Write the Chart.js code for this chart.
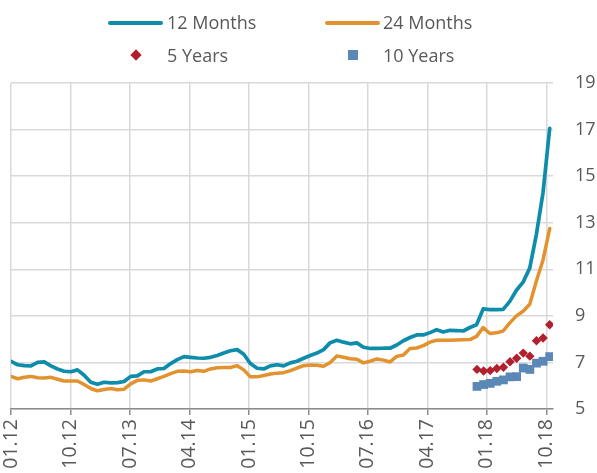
<!DOCTYPE html>
<html>
<head>
<meta charset="utf-8">
<script src="https://cdn.jsdelivr.net/npm/chart.js@4/dist/chart.umd.min.js"></script>
<style>
  html, body { margin: 0; padding: 0; background: #fff; }
  #wrap { position: relative; width: 597px; height: 473px; overflow: hidden; }
  canvas { position: absolute; left: 0; top: 0; }
  .lg { position: absolute; font-family: "Open Sans", sans-serif; font-size: 18px; color: #595959; line-height: 20px; white-space: nowrap; }
  .sw { position: absolute; }
</style>
</head>
<body>
<div id="wrap">
  <canvas id="c" width="597" height="473"></canvas>
  <div class="sw" style="left:108px;top:21px;width:55px;height:4px;border-radius:2px;background:#0e8dab;"></div>
  <div class="lg" style="left:167px;top:12px;">12 Months</div>
  <div class="sw" style="left:325px;top:21px;width:55px;height:4px;border-radius:2px;background:#e2922f;"></div>
  <div class="lg" style="left:383px;top:12px;">24 Months</div>
  <div class="sw" style="left:132px;top:51px;width:8px;height:8px;background:#b0202f;transform:rotate(45deg);"></div>
  <div class="lg" style="left:167px;top:45px;">5 Years</div>
  <div class="sw" style="left:348px;top:50px;width:10px;height:10px;background:#5b88b6;"></div>
  <div class="lg" style="left:383px;top:45px;">10 Years</div>
</div>
<script>
// Tick labels (month.year) placed every 9 months from 01.12
const tickLabels = ['01.12','10.12','07.13','04.14','01.15','10.15','07.16','04.17','01.18','10.18'];
const tickMonths = [0, 9, 18, 27, 36, 45, 54, 63, 72, 81];

// 12-month yields, monthly from 01.12 to 10.18
const months12 = [
  7.05, 6.90, 6.86, 6.85, 7.00, 7.02, 6.85, 6.72, 6.62, 6.60,
  6.68, 6.45, 6.15, 6.06, 6.15, 6.12, 6.13, 6.18, 6.40, 6.42,
  6.60, 6.60, 6.72, 6.74, 6.95, 7.12, 7.25, 7.22, 7.19, 7.18,
  7.22, 7.30, 7.40, 7.50, 7.55, 7.35, 6.95, 6.75, 6.72, 6.85,
  6.90, 6.85, 6.98, 7.05, 7.18, 7.30, 7.40, 7.55, 7.85, 7.95,
  7.87, 7.80, 7.84, 7.65, 7.60, 7.60, 7.61, 7.61, 7.75, 7.93,
  8.07, 8.18, 8.18, 8.28, 8.40, 8.31, 8.38, 8.37, 8.35, 8.50,
  8.62, 9.30, 9.27, 9.27, 9.28, 9.62, 10.10, 10.45, 11.05, 12.50,
  14.30, 17.05
];

// 24-month yields, monthly from 01.12 to 10.18
const months24 = [
  6.40, 6.30, 6.36, 6.40, 6.34, 6.33, 6.36, 6.28, 6.20, 6.20,
  6.20, 6.05, 5.88, 5.78, 5.84, 5.88, 5.83, 5.85, 6.08, 6.23,
  6.25, 6.20, 6.30, 6.40, 6.52, 6.62, 6.63, 6.60, 6.65, 6.62,
  6.72, 6.77, 6.78, 6.78, 6.86, 6.68, 6.38, 6.38, 6.44, 6.50,
  6.54, 6.56, 6.65, 6.76, 6.86, 6.89, 6.88, 6.84, 7.00, 7.28,
  7.22, 7.16, 7.14, 6.98, 7.05, 7.15, 7.10, 7.02, 7.26, 7.32,
  7.60, 7.62, 7.72, 7.87, 7.95, 7.95, 7.95, 7.96, 7.97, 7.98,
  8.12, 8.50, 8.24, 8.27, 8.35, 8.70, 9.00, 9.20, 9.50, 10.50,
  11.40, 12.75
];

// 5-year and 10-year yields, monthly from 11.17 to 10.18
const years5 = [6.70, 6.63, 6.65, 6.74, 6.79, 7.03, 7.18, 7.40, 7.27, 7.93, 8.05, 8.62];
const years10 = [5.97, 6.05, 6.10, 6.19, 6.25, 6.38, 6.39, 6.76, 6.70, 6.97, 7.05, 7.25];

const lineEnd = 81.5;       // mid-October 2018, in months after 01.12
const markerStart = 70.5;   // mid-November 2017

const toLine = arr => arr.map((v, i) => ({ x: i * lineEnd / (arr.length - 1), y: v }));
const toMarkers = arr => arr.map((v, i) => ({ x: markerStart + i, y: v }));

const FONT = { family: '"Open Sans", sans-serif', size: 18 };
const XFONT = { family: '"Open Sans", sans-serif', size: 19.5 };

new Chart(document.getElementById('c'), {
  type: 'scatter',
  data: {
    datasets: [
      { label: '5 Years', data: toMarkers(years5), showLine: false, pointStyle: 'rectRot',
        pointRadius: 4.7, backgroundColor: '#b0202f', borderColor: '#b0202f', borderWidth: 0 },
      { label: '10 Years', data: toMarkers(years10), showLine: false, pointStyle: 'rect',
        pointRadius: 6.2, backgroundColor: '#5b88b6', borderColor: '#5b88b6', borderWidth: 0 },
      { label: '24 Months', data: toLine(months24), showLine: true, pointRadius: 0,
        borderColor: '#e2922f', borderWidth: 3.5, tension: 0, borderJoinStyle: 'round', borderCapStyle: 'round' },
      { label: '12 Months', data: toLine(months12), showLine: true, pointRadius: 0,
        borderColor: '#0e8dab', borderWidth: 3.7, tension: 0, borderJoinStyle: 'round', borderCapStyle: 'round' }
    ]
  },
  options: {
    responsive: false,
    animation: false,
    layout: { padding: { left: 11, top: 83, right: 0, bottom: 0 } },
    plugins: { legend: { display: false }, tooltip: { enabled: false } },
    scales: {
      x: {
        type: 'linear',
        min: 0, max: 82,
        afterBuildTicks: s => { s.ticks = tickMonths.map(v => ({ value: v })); },
        afterFit: s => { s.height = 64; },
        ticks: {
          autoSkip: false, minRotation: 90, maxRotation: 90, padding: 4,
          color: '#595959', font: XFONT,
          callback: v => tickLabels[tickMonths.indexOf(v)]
        },
        grid: { color: '#d9d9d9', lineWidth: 1.5, tickColor: '#8c8c8c', tickLength: 6, drawTicks: true },
        border: { display: true, color: '#8c8c8c', width: 1.5 }
      },
      y: {
        position: 'right',
        min: 5, max: 19,
        afterFit: s => { s.width = 44; },
        ticks: { stepSize: 2, padding: 22, color: '#595959', font: FONT },
        grid: { color: '#d9d9d9', lineWidth: 1.5, drawTicks: false },
        border: { display: false }
      }
    }
  }
});
</script>
</body>
</html>
